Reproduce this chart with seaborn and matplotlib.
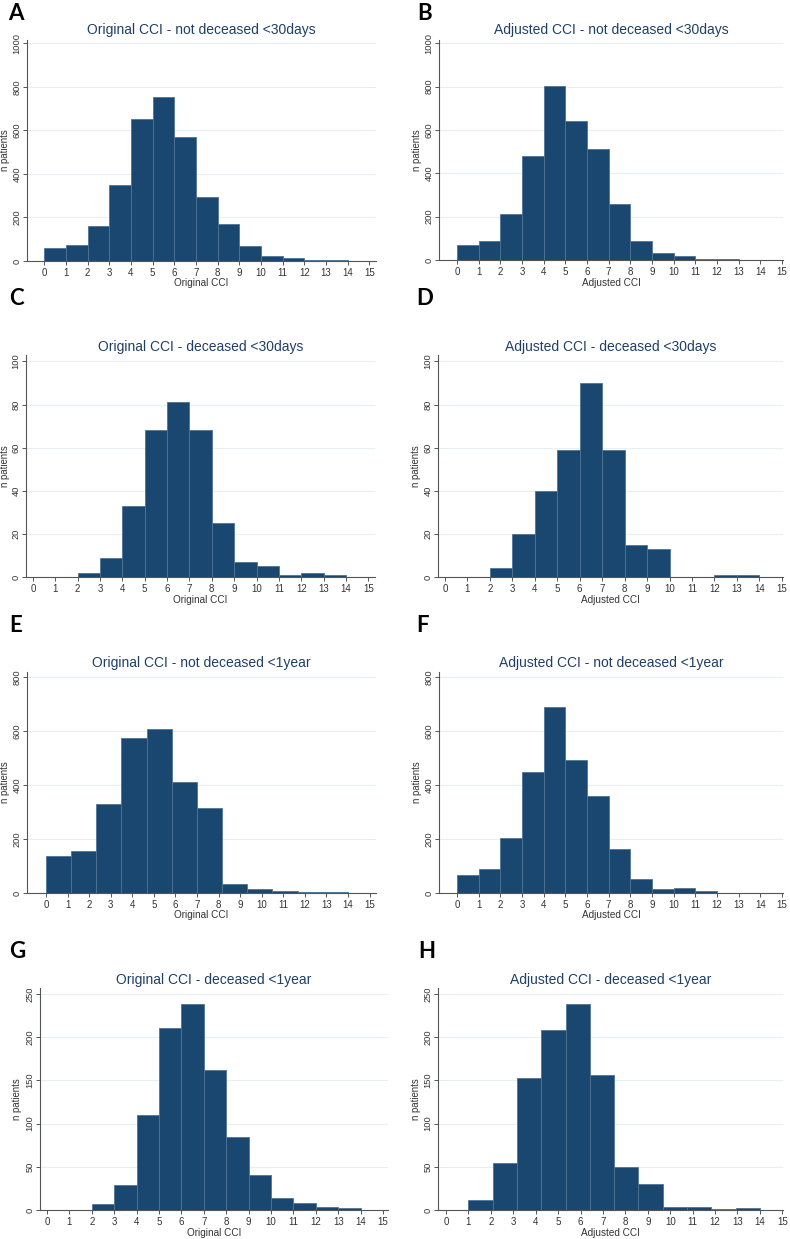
import numpy as np
import pandas as pd
import matplotlib
matplotlib.use("Agg")
import matplotlib.pyplot as plt
import seaborn as sns

# ---------------- data ----------------
# Panel A: Original CCI - not deceased <30days (bins 0..14, width 1)
a_counts = [62, 75, 160, 348, 652, 752, 570, 292, 172, 68, 25, 15, 6, 5]
# Panel B: Adjusted CCI - not deceased <30days
b_counts = [68, 88, 210, 480, 802, 642, 510, 260, 88, 32, 20, 6, 3, 2]
# Panel C: Original CCI - deceased <30days (bins 2..14)
c_counts = [2, 9, 33, 68, 81, 68, 25, 7, 5, 1, 2, 1]
# Panel D: Adjusted CCI - deceased <30days (bins 2..14)
d_counts = [4, 20, 40, 59, 90, 59, 15, 13, 0, 0, 1, 1]
# Panel E: Original CCI - not deceased <1year (12 bins over 0..14)
e_counts = [137, 155, 328, 575, 608, 412, 313, 35, 15, 8, 4, 3]
# Panel F: Adjusted CCI - not deceased <1year (bins 0..12)
f_counts = [68, 88, 203, 448, 690, 492, 360, 163, 52, 15, 17, 6]
# Panel G: Original CCI - deceased <1year (bins 2..14)
g_counts = [7, 29, 110, 211, 239, 162, 84, 41, 14, 8, 4, 2]
# Panel H: Adjusted CCI - deceased <1year (12 bins over 1..14)
h_counts = [11, 54, 153, 208, 239, 156, 50, 30, 4, 3, 1, 2]

# bin ranges (start, stop, number of bins)
a_bins = (0, 14, 14)
b_bins = (0, 14, 14)
c_bins = (2, 14, 12)
d_bins = (2, 14, 12)
e_bins = (0, 14, 12)
f_bins = (0, 12, 12)
g_bins = (2, 14, 12)
h_bins = (1, 14, 12)

titles = [
    "Original CCI - not deceased <30days", "Adjusted CCI - not deceased <30days",
    "Original CCI - deceased <30days", "Adjusted CCI - deceased <30days",
    "Original CCI - not deceased <1year", "Adjusted CCI - not deceased <1year",
    "Original CCI - deceased <1year", "Adjusted CCI - deceased <1year",
]
xlabels = ["Original CCI", "Adjusted CCI"] * 4
letters = ["A", "B", "C", "D", "E", "F", "G", "H"]
x_ticks = list(range(0, 16))
y_ticks_list = [
    [0, 200, 400, 600, 800, 1000], [0, 200, 400, 600, 800, 1000],
    [0, 20, 40, 60, 80, 100], [0, 20, 40, 60, 80, 100],
    [0, 200, 400, 600, 800], [0, 200, 400, 600, 800],
    [0, 50, 100, 150, 200, 250], [0, 50, 100, 150, 200, 250],
]
counts_list = [a_counts, b_counts, c_counts, d_counts, e_counts, f_counts, g_counts, h_counts]
bins_list = [a_bins, b_bins, c_bins, d_bins, e_bins, f_bins, g_bins, h_bins]

# ---------------- layout (pixels) ----------------
W, H = 790, 1239
# left, right, top, bottom (pixel), xlim, ymax
layout = [
    (27, 376, 40, 261, (-0.79, 15.3), 1015),
    (439, 783, 40, 260, (-0.83, 15.05), 1015),
    (26, 375, 355, 577, (-0.31, 15.3), 103),
    (438, 783, 355, 577, (-0.31, 15.05), 103),
    (27, 376, 672, 893, (-0.88, 15.3), 818),
    (439, 783, 672, 893, (-0.83, 15.05), 818),
    (40, 388, 988, 1210, (-0.31, 15.22), 257),
    (438, 783, 988, 1210, (-0.36, 15.03), 257),
]
ylabel_x = [5, 417, 5, 416, 5, 417, 17, 416]
xlabel_y = [283, 283, 600, 600, 915, 915, 1233, 1233]
letter_pos = [(16, 14), (425, 14), (16, 298), (425, 298),
              (16, 625), (423, 625), (17, 952), (427, 952)]
title_off = [10, 10, 8, 8, 9, 9, 8, 8]

sns.set_theme(style="white")
plt.rcParams['font.family'] = ['Liberation Sans', 'DejaVu Sans']

bar_color = "#1a476f"
edge_color = "#4f7396"
title_color = "#1f3f66"
axis_color = "#555555"
grid_color = "#e6eff2"

fig = plt.figure(figsize=(W / 100, H / 100), dpi=100)
fig.patch.set_facecolor("white")

for i in range(8):
    l, r, t, b, xlim, ymax = layout[i]
    ax = fig.add_axes([l / W, 1 - b / H, (r - l) / W, (b - t) / H])
    start, stop, nb = bins_list[i]
    edges = [float(e) for e in np.linspace(start, stop, nb + 1)]
    centers = [(edges[k] + edges[k + 1]) / 2 for k in range(nb)]
    df = pd.DataFrame({"x": centers, "n": counts_list[i]})
    sns.histplot(data=df, x="x", weights="n", bins=edges, ax=ax,
                 color=bar_color, edgecolor=edge_color, linewidth=0.6,
                 alpha=1.0, zorder=2)
    ax.set_xlim(*xlim)
    ax.set_ylim(0, ymax)
    ax.set_xticks(x_ticks)
    ax.set_xticklabels([str(v) for v in x_ticks])
    ax.set_yticks(y_ticks_list[i])
    ax.set_yticklabels([str(v) for v in y_ticks_list[i]], rotation=90, va="center")
    ax.yaxis.grid(True, color=grid_color, linewidth=0.8, zorder=0)
    ax.xaxis.grid(False)
    ax.set_axisbelow(True)
    for s in ["top", "right"]:
        ax.spines[s].set_visible(False)
    for s in ["left", "bottom"]:
        ax.spines[s].set_color(axis_color)
        ax.spines[s].set_linewidth(0.8)
    ax.tick_params(axis="both", which="both", direction="out", length=3, width=0.7,
                   color=axis_color, labelsize=7, labelcolor="#333333", pad=2,
                   bottom=True, left=True)
    ax.tick_params(axis="y", pad=0.8, labelsize=6.7)
    ax.set_xlabel(xlabels[i], fontsize=7.2, color="#333333")
    ax.set_ylabel("n patients", fontsize=6.9, color="#333333")
    ax.yaxis.set_label_coords((ylabel_x[i] - l) / (r - l), 0.5)
    ax.xaxis.set_label_coords(0.5, -(xlabel_y[i] - b) / (b - t))
    ax.xaxis.label.set_verticalalignment("center")
    ax.yaxis.label.set_verticalalignment("center")
    ax.set_facecolor("white")
    # title
    cx = (l + r) / 2
    fig.text(cx / W, 1 - (t - title_off[i]) / H, titles[i], ha="center", va="center",
             fontsize=10, color=title_color)
    lx, ly = letter_pos[i]
    fig.text(lx / W, 1 - ly / H, letters[i], ha="center", va="center",
             fontsize=16, fontweight="bold", color="black", family=["Lato", "DejaVu Sans"])

fig.savefig("out.png", dpi=100, facecolor="white")
